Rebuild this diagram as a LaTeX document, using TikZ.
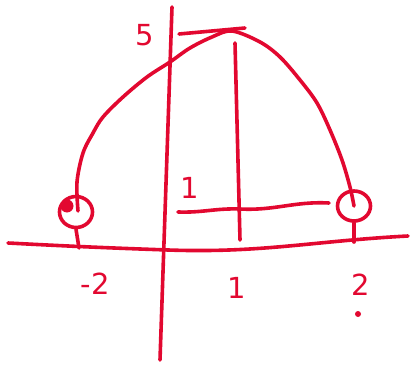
\documentclass[tikz,border=0pt]{standalone}
\usepackage{fontspec}
\setmainfont{DejaVu Sans}
\usetikzlibrary{shapes.geometric}
\definecolor{pen}{RGB}{226,8,48}
\begin{document}
\begin{tikzpicture}[x=1pt,y=-1pt,
  stroke/.style={draw=pen,line width=3.6pt,line cap=round,line join=round},
  lab/.style={text=pen,font=\fontsize{29}{29}\selectfont,inner sep=0pt}]
\useasboundingbox (0,0) rectangle (414,371);
% axes
\coordinate (xl) at (8,243);
\coordinate (x0) at (168,250);
\coordinate (xr) at (408,236);
\coordinate (yt) at (172,7);
\coordinate (yb) at (160,360);
\draw[stroke] (xl) to[out=-3,in=178] (x0) to[out=-2,in=183] (xr);
\draw[stroke] (yt) -- (yb);
% parabola
\coordinate (pl) at (78,211);
\coordinate (pr) at (354,206);
\draw[stroke] plot[smooth,tension=0.55] coordinates {(pl) (77,182) (83,153) (93,133) (103,117) (123,97) (147,77) (170,62) (190,48) (212,37) (232,31) (260,42) (280,57) (300,80) (317,103) (330,130) (342,160) (350,187) (pr)};
% circles
\node[stroke,ellipse,minimum width=33pt,minimum height=31pt,inner sep=0pt] (cl) at (76,212) {};
\node[stroke,ellipse,minimum width=33pt,minimum height=30pt,inner sep=0pt] (cr) at (354,206) {};
\fill[pen] (67,206) circle (6.5);
\draw[stroke] (cl.south) -- (79,248);
\draw[stroke] (cr.south) -- (354,242);
% top y=5 line
\coordinate (t1) at (179,34);
\coordinate (t2) at (245,28);
\draw[stroke] (t1) -- (t2);
% x=1 vertical
\coordinate (v1) at (235,43);
\coordinate (v2) at (240,240);
\draw[stroke] (v1) -- (v2);
% y=1 horizontal
\coordinate (h1) at (178,212);
\coordinate (h2) at (329,203);
\draw[stroke] (h1) to[out=-2,in=178] (240,209) to[out=-3,in=177] (h2);
% labels
\node[lab] (l5) at (145,35) {5};
\node[lab] (l1y) at (190,188) {1};
\node[lab] (lm2) at (95,284) {-2};
\node[lab] (l1) at (237,288) {1};
\node[lab] (l2) at (361,285) {2};
\fill[pen] (358,314) circle (3);
\end{tikzpicture}
\end{document}
